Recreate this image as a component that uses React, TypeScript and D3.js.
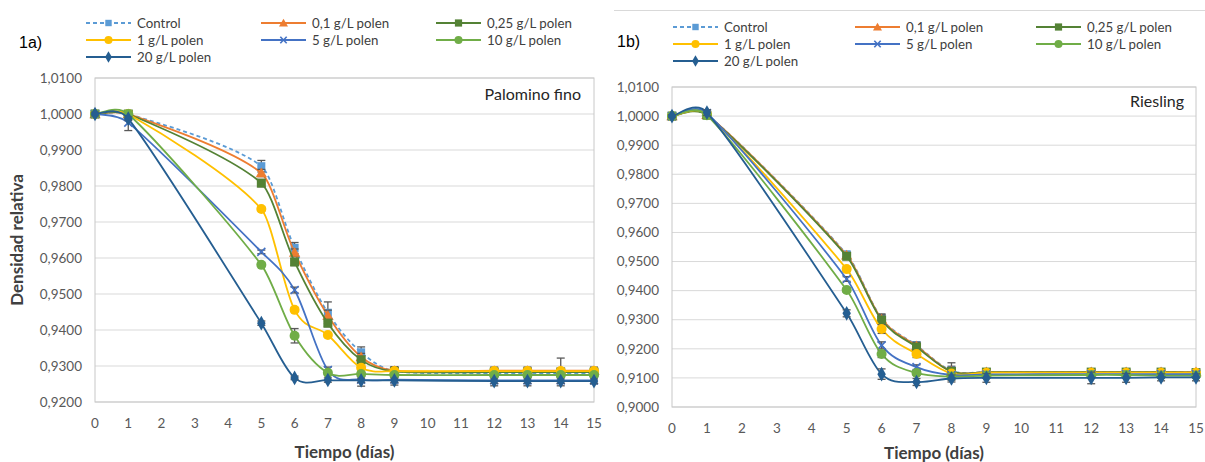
import React from "react";
import * as d3 from "d3";

// days sampled
const days = [0, 1, 5, 6, 7, 8, 9, 12, 13, 14, 15];
const xTicks = d3.range(0, 16);

const seriesNames = [
  "Control",
  "0,1 g/L polen",
  "0,25 g/L polen",
  "1 g/L polen",
  "5 g/L polen",
  "10 g/L polen",
  "20 g/L polen",
];

// 1a) Palomino fino
const palControl = [1.0, 1.0, 0.9855, 0.9628, 0.9448, 0.9338, 0.9286, 0.928, 0.928, 0.928, 0.928];
const pal01 = [1.0, 1.0, 0.9836, 0.9615, 0.944, 0.9325, 0.9287, 0.9287, 0.9287, 0.9287, 0.9287];
const pal025 = [1.0, 1.0, 0.9808, 0.9589, 0.9419, 0.9317, 0.9285, 0.9283, 0.9283, 0.9283, 0.9283];
const pal1 = [1.0, 1.0, 0.9736, 0.9456, 0.9386, 0.9295, 0.9286, 0.9286, 0.9286, 0.9286, 0.9286];
const pal5 = [1.0, 0.9976, 0.9617, 0.9511, 0.9289, 0.9262, 0.9262, 0.926, 0.926, 0.926, 0.926];
const pal10 = [1.0, 1.0, 0.9581, 0.9384, 0.9281, 0.9278, 0.9275, 0.9275, 0.9275, 0.9275, 0.9275];
const pal20 = [1.0, 0.9987, 0.9419, 0.9267, 0.9261, 0.926, 0.926, 0.9258, 0.9258, 0.9258, 0.9258];

const palControlErr = [0.0005, 0.0005, 0.0016, 0.0015, 0.003, 0.0015, 0.0012, 0.001, 0.001, 0.001, 0.001];
const pal01Err = [0.0005, 0.0005, 0.001, 0.001, 0.0015, 0.001, 0.001, 0.001, 0.001, 0.0035, 0.001];
const pal025Err = [0.0005, 0.0005, 0.001, 0.001, 0.001, 0.001, 0.001, 0.001, 0.001, 0.001, 0.001];
const pal1Err = [0.0005, 0.0005, 0.0005, 0.0005, 0.0005, 0.0005, 0.0008, 0.0008, 0.0008, 0.0008, 0.0008];
const pal5Err = [0.0005, 0.0022, 0.0005, 0.0008, 0.0008, 0.0018, 0.0015, 0.0015, 0.0015, 0.0015, 0.001];
const pal10Err = [0.0005, 0.0005, 0.0005, 0.002, 0.0005, 0.0005, 0.0005, 0.0005, 0.0005, 0.0005, 0.0005];
const pal20Err = [0.0005, 0.0005, 0.0006, 0.0005, 0.0006, 0.0006, 0.0006, 0.0006, 0.0006, 0.0006, 0.0006];

// 1b) Riesling
const rieControl = [1.0, 1.0005, 0.9525, 0.9305, 0.9212, 0.9125, 0.912, 0.912, 0.912, 0.912, 0.912];
const rie01 = [1.0, 1.0005, 0.9522, 0.9302, 0.921, 0.9122, 0.912, 0.912, 0.912, 0.912, 0.912];
const rie025 = [1.0, 1.0003, 0.9518, 0.9299, 0.9206, 0.9122, 0.912, 0.912, 0.912, 0.912, 0.9118];
const rie1 = [1.0, 1.0005, 0.9474, 0.9268, 0.9182, 0.9115, 0.9118, 0.9118, 0.9118, 0.9118, 0.9118];
const rie5 = [1.0, 1.001, 0.944, 0.9212, 0.9137, 0.911, 0.9112, 0.9113, 0.9113, 0.9113, 0.9113];
const rie10 = [1.0, 1.0003, 0.9402, 0.9182, 0.9117, 0.9105, 0.9108, 0.911, 0.911, 0.9108, 0.9108];
const rie20 = [1.0, 1.0012, 0.9322, 0.9113, 0.9086, 0.9098, 0.91, 0.91, 0.91, 0.9102, 0.9102];

const rieControlErr = [0.0005, 0.0012, 0.0008, 0.0015, 0.0012, 0.0015, 0.0008, 0.0008, 0.0008, 0.0008, 0.0008];
const rie01Err = [0.0005, 0.001, 0.0008, 0.0015, 0.0012, 0.003, 0.0008, 0.0008, 0.0008, 0.0008, 0.0008];
const rie025Err = [0.0005, 0.001, 0.0008, 0.0012, 0.001, 0.0012, 0.0008, 0.0008, 0.0008, 0.0008, 0.0008];
const rie1Err = [0.0005, 0.001, 0.0008, 0.0015, 0.0012, 0.0008, 0.0008, 0.0008, 0.0008, 0.0008, 0.0008];
const rie5Err = [0.0005, 0.001, 0.0008, 0.0012, 0.0008, 0.0008, 0.0008, 0.0008, 0.0008, 0.0008, 0.0008];
const rie10Err = [0.0005, 0.001, 0.0008, 0.0012, 0.0008, 0.0008, 0.0008, 0.0008, 0.0008, 0.0008, 0.0008];
const rie20Err = [0.0005, 0.001, 0.0012, 0.0018, 0.0012, 0.0012, 0.0015, 0.002, 0.0015, 0.0012, 0.0012];

const palValues = [palControl, pal01, pal025, pal1, pal5, pal10, pal20];
const palErrors = [palControlErr, pal01Err, pal025Err, pal1Err, pal5Err, pal10Err, pal20Err];
const rieValues = [rieControl, rie01, rie025, rie1, rie5, rie10, rie20];
const rieErrors = [rieControlErr, rie01Err, rie025Err, rie1Err, rie5Err, rie10Err, rie20Err];

const palYTicks = d3.range(0, 10).map((i) => 0.92 + i * 0.01);
const rieYTicks = d3.range(0, 12).map((i) => 0.9 + i * 0.01);

// styling
const colors = ["#5B9BD5", "#ED7D31", "#548235", "#FFC000", "#4472C4", "#70AD47", "#255E91"];
const shapes = ["square", "triangle", "bigsquare", "circle", "x", "circle", "diamond"];

const FONT = "Lato, 'Open Sans', sans-serif";
const fmt = (v: number) => v.toFixed(4).replace(".", ",");

// Excel-like smoothing: catmull-rom tangents, handles clamped to 1/3 of the segment width
class ExcelSmooth {
  _context: any;
  _pts: number[][] = [];
  constructor(context: any) {
    this._context = context;
  }
  areaStart() {}
  areaEnd() {}
  lineStart() {
    this._pts = [];
  }
  point(x: number, y: number) {
    this._pts.push([+x, +y]);
  }
  lineEnd() {
    const p = this._pts;
    const n = p.length;
    const ctx = this._context;
    if (!n) return;
    ctx.moveTo(p[0][0], p[0][1]);
    if (n === 1) return;
    const t = p.map((_, i) => {
      const a = p[Math.max(0, i - 1)];
      const b = p[Math.min(n - 1, i + 1)];
      return [(b[0] - a[0]) / 6, (b[1] - a[1]) / 6];
    });
    for (let i = 0; i < n - 1; i++) {
      const h = (p[i + 1][0] - p[i][0]) / 3;
      const s1 = Math.min(1, h / Math.abs(t[i][0] || 1e-9));
      const s2 = Math.min(1, h / Math.abs(t[i + 1][0] || 1e-9));
      ctx.bezierCurveTo(
        p[i][0] + t[i][0] * s1,
        p[i][1] + t[i][1] * s1,
        p[i + 1][0] - t[i + 1][0] * s2,
        p[i + 1][1] - t[i + 1][1] * s2,
        p[i + 1][0],
        p[i + 1][1]
      );
    }
  }
}
const curveExcel: any = (context: any) => new ExcelSmooth(context);

function Marker({ shape, x, y, color, scale = 1 }: any) {
  if (shape === "square") {
    const s = 8 * scale;
    return <rect x={x - s / 2} y={y - s / 2} width={s} height={s} fill={color} />;
  }
  if (shape === "bigsquare") {
    const s = 9 * scale;
    return <rect x={x - s / 2} y={y - s / 2} width={s} height={s} fill={color} />;
  }
  if (shape === "circle") {
    return <circle cx={x} cy={y} r={5 * scale} fill={color} />;
  }
  if (shape === "triangle") {
    const p = d3.symbol(d3.symbolTriangle, 55 * scale * scale)();
    return <path d={p || ""} transform={`translate(${x},${y + 1})`} fill={color} />;
  }
  if (shape === "diamond") {
    const p = d3.symbol(d3.symbolDiamond, 62 * scale * scale)();
    return <path d={p || ""} transform={`translate(${x},${y})`} fill={color} />;
  }
  const h = 4 * scale;
  return (
    <g stroke={color} strokeWidth={1.6}>
      <line x1={x - h} y1={y - h} x2={x + h} y2={y + h} />
      <line x1={x - h} y1={y + h} x2={x + h} y2={y - h} />
    </g>
  );
}

function Panel({ values, errors, yTicks, plot, label, labelX, labelY, legend, tag, tagPos, yTitle, titleY }: any) {
  const x = d3.scaleLinear().domain([0, 15]).range([plot.left, plot.right]);
  const y = d3
    .scaleLinear()
    .domain([yTicks[0], yTicks[yTicks.length - 1]])
    .range([plot.bottom, plot.top]);

  const line = d3
    .line<number>()
    .x((_, i) => x(days[i]))
    .y((d) => y(d))
    .curve(curveExcel);

  const cols = [legend.x0, legend.x1, legend.x2];

  return (
    <g fontFamily={FONT}>
      {/* grid */}
      {yTicks.map((t: number) => (
        <line key={t} x1={plot.left} x2={plot.right} y1={y(t)} y2={y(t)} stroke="#d9d9d9" strokeWidth={1} />
      ))}
      <rect
        x={plot.left}
        y={plot.top}
        width={plot.right - plot.left}
        height={plot.bottom - plot.top}
        fill="none"
        stroke="#c8c8c8"
        strokeWidth={1}
      />
      {yTicks.map((t: number) => (
        <text key={t} x={plot.left - 13} y={y(t)} dy="0.35em" textAnchor="end" fontSize={13.5} fill="#595959">
          {fmt(t)}
        </text>
      ))}
      {xTicks.map((t: number) => (
        <text key={t} x={x(t)} y={plot.bottom + 21} dy="0.35em" textAnchor="middle" fontSize={13.5} fill="#595959">
          {t}
        </text>
      ))}
      <text
        x={(plot.left + plot.right) / 2}
        y={titleY}
        dy="0.35em"
        textAnchor="middle"
        fontSize={17}
        fontWeight="bold"
        fill="#404040"
      >
        Tiempo (días)
      </text>
      {yTitle && (
        <text
          transform={`translate(17,${(plot.top + plot.bottom) / 2}) rotate(-90)`}
          dy="0.35em"
          textAnchor="middle"
          fontSize={17}
          fontWeight="bold"
          fill="#404040"
        >
          {yTitle}
        </text>
      )}
      <text x={labelX} y={labelY} dy="0.35em" textAnchor="end" fontSize={16} fill="#262626">
        {label}
      </text>

      {/* series */}
      {values.map((vals: number[], si: number) => (
        <g key={si}>
          <path
            d={line(vals) || ""}
            fill="none"
            stroke={colors[si]}
            strokeWidth={1.8}
            strokeDasharray={si === 0 ? "4,3" : undefined}
          />
          {vals.map((v, i) => {
            const e = errors[si][i];
            const cx = x(days[i]);
            return (
              <g key={i} stroke="#595959" strokeWidth={1.3}>
                <line x1={cx} x2={cx} y1={y(v - e)} y2={y(v + e)} />
                <line x1={cx - 4} x2={cx + 4} y1={y(v - e)} y2={y(v - e)} />
                <line x1={cx - 4} x2={cx + 4} y1={y(v + e)} y2={y(v + e)} />
              </g>
            );
          })}
          {vals.map((v, i) => (
            <Marker key={"m" + i} shape={shapes[si]} x={x(days[i])} y={y(v)} color={colors[si]} />
          ))}
        </g>
      ))}

      {/* legend */}
      {seriesNames.map((name, si) => {
        const col = si % 3;
        const row = Math.floor(si / 3);
        const lx = cols[col];
        const ly = legend.y0 + row * 17;
        return (
          <g key={name}>
            <line
              x1={lx}
              x2={lx + 45}
              y1={ly}
              y2={ly}
              stroke={colors[si]}
              strokeWidth={1.8}
              strokeDasharray={si === 0 ? "4,3" : undefined}
            />
            <Marker shape={shapes[si]} x={lx + 22.5} y={ly} color={colors[si]} scale={0.8} />
            <text x={lx + 51} y={ly} dy="0.35em" fontSize={13.3} fill="#404040">
              {name}
            </text>
          </g>
        );
      })}
      <text x={tagPos[0]} y={tagPos[1]} dy="0.35em" fontSize={16} fontFamily="'Liberation Sans', Arial, sans-serif" fill="#000">
        {tag}
      </text>
    </g>
  );
}

export default function App() {
  return (
    <svg
      width={1205}
      height={462}
      style={{ position: "absolute", left: 0, top: 0, background: "#fff", display: "block" }}
    >
      <rect width={1205} height={462} fill="#fff" />
      <line x1={614} x2={1205} y1={10.5} y2={10.5} stroke="#d9d9d9" strokeWidth={1} />
      <Panel
        values={palValues}
        errors={palErrors}
        yTicks={palYTicks}
        plot={{ left: 95, right: 594, top: 78, bottom: 402 }}
        label="Palomino fino"
        labelX={581}
        labelY={94}
        legend={{ x0: 86, x1: 261, x2: 436, y0: 23 }}
        tag="1a)"
        tagPos={[19, 42]}
        yTitle="Densidad relativa"
        titleY={452}
      />
      <Panel
        values={rieValues}
        errors={rieErrors}
        yTicks={rieYTicks}
        plot={{ left: 672, right: 1196, top: 87, bottom: 407 }}
        label="Riesling"
        labelX={1184}
        labelY={101}
        legend={{ x0: 673, x1: 855, x2: 1036, y0: 27 }}
        tag="1b)"
        tagPos={[617, 41]}
        titleY={453}
      />
    </svg>
  );
}
